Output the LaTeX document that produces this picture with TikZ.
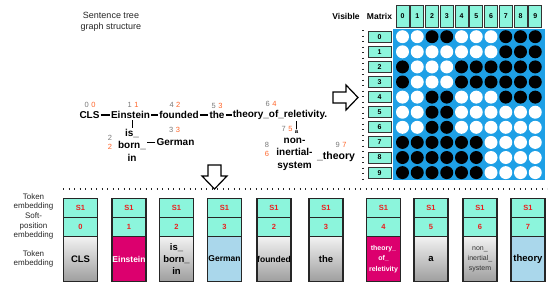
\documentclass[tikz,border=0pt]{standalone}
\usepackage{fontspec}
\setmainfont{Liberation Sans}
\usetikzlibrary{positioning}
\definecolor{mint}{RGB}{140,245,220}
\definecolor{matblue}{RGB}{30,160,230}
\definecolor{magent}{RGB}{220,0,110}
\definecolor{lblue}{RGB}{170,215,235}
\definecolor{numor}{RGB}{255,100,40}
\definecolor{numgr}{RGB}{120,120,120}
\definecolor{sred}{RGB}{235,30,30}
\newcommand{\idxpair}[2]{{\color{numgr}#1}\hspace{2.5pt}{\color{numor}#2}}
\newcommand{\tkbig}{\bfseries\fontsize{9.5}{12}\selectfont}
\newcommand{\tkmid}{\bfseries\fontsize{8.5}{12}\selectfont}
\newcommand{\tksmall}{\bfseries\fontsize{7}{10.5}\selectfont}
\newcommand{\tkthin}{\color{black!80}\fontsize{7}{10}\selectfont}

\begin{document}
\begin{tikzpicture}[x=1pt,y=-1pt,
  word/.style={font=\bfseries\fontsize{10}{12.5}\selectfont,inner sep=1pt,align=center},
  idx/.style={font=\fontsize{7.5}{9}\selectfont,inner sep=0pt,align=center},
  link/.style={line width=1.5pt},
  vlink/.style={line width=0.8pt},
  hdr/.style={draw=black!80,fill=mint,line width=0.9pt,minimum width=13pt,minimum height=22pt,inner sep=0pt,font=\bfseries\fontsize{7}{8}\selectfont},
  rowlab/.style={hdr,minimum width=23pt,minimum height=11pt},
  matdot/.style={circle,inner sep=0pt,minimum size=13pt},
  vis0/.style={fill=white},
  vis1/.style={fill=black},
  slot/.style={draw=black!85,line width=1.2pt,outer sep=0pt,minimum width=34pt,inner sep=0pt,align=center},
  segbox/.style={slot,fill=mint,minimum height=19pt,text=sred,font=\bfseries\fontsize{7.5}{8}\selectfont},
  tokgray/.style={top color=black!5,bottom color=black!38},
  tokpink/.style={fill=magent,text=white},
  tokblue/.style={fill=lblue},
  sidelab/.style={font=\fontsize{8}{9.7}\selectfont,align=center,text=black!85},
  sepline/.style={line width=1.3pt,dash pattern=on 1.3pt off 4.2pt,black!85},
  hollow/.style={draw,line width=1.2pt,fill=white,line join=miter}
]
\useasboundingbox (0,0) rectangle (550,287);

% sentence tree
\node[sidelab,font=\fontsize{9}{11}\selectfont] (title) at (111,22) {Sentence tree\\graph structure};
\node[word] (cls) at (89.5,115) {CLS};
\node[word] (ein) at (130.5,115) {Einstein};
\node[word] (fou) at (179,115) {founded};
\node[word] (the) at (217,115) {the};
\node[word] (tor) at (280,115) {theory\_of\_reletivity.};
\node[word] (isborn) at (132,145) {is\_\\born\_\\in};
\node[word] (ger) at (175.5,142.5) {German};
\node[word,font=\bfseries\fontsize{6}{7}\selectfont,inner sep=0.5pt] (a) at (296.5,131.5) {a};
\node[word] (nonsys) at (294.5,154) {non-\\inertial-\\system};
\node[word,font=\bfseries\fontsize{10.5}{12.5}\selectfont] (tth) at (336,157) {\_theory};
\draw[link] (cls) -- (ein);
\draw[link] (ein) -- (fou);
\draw[link] (fou) -- (the);
\draw[link] (the) -- (tor);
\draw[vlink] (isborn) -- (isborn |- ein.south);
\draw[link] (ger) -- (ger -| isborn.east);
\draw[vlink] (a) -- (a |- tor.south);

% positions
\node[idx] (n0) at (90,105) {\idxpair{0}{0}};
\node[idx] (n1) at (133,105) {\idxpair{1}{1}};
\node[idx] (n2) at (175,105) {\idxpair{4}{2}};
\node[idx] (n3) at (217,106) {\idxpair{5}{3}};
\node[idx] (n4) at (271,104) {\idxpair{6}{4}};
\node[idx] (n5) at (174.5,130) {\idxpair{3}{3}};
\node[idx] (n6) at (110,142.5) {{\color{numgr}2}\\{\color{numor}2}};
\node[idx] (n7) at (287,129) {\idxpair{7}{5}};
\node[idx] (n8) at (267,149.5) {{\color{numgr}8}\\{\color{numor}6}};
\node[idx] (n9) at (341,145) {\idxpair{9}{7}};

% arrows
\draw[hollow] (333,92) -- (346,92) -- (346,85) -- (358,97.5) -- (346,110) -- (346,103) -- (333,103) -- cycle;
\draw[hollow] (208,165) -- (208,176) -- (202,176) -- (214.5,189) -- (227,176) -- (221,176) -- (221,165) -- cycle;

% visible matrix
\node[font=\bfseries\fontsize{8.5}{10}\selectfont,inner sep=0pt] (vlab) at (346,16) {Visible};
\node[font=\bfseries\fontsize{8.5}{10}\selectfont,inner sep=0pt] (mlab) at (379.5,16) {Matrix};
\node[fill=matblue,minimum width=152pt,minimum height=151pt,inner sep=0pt,anchor=north west] (vm) at (393,29) {};
\foreach \c in {0,...,9}
  \node[hdr] (hc\c) at ({402.5+14.75*\c},16) {\c};
\foreach \r in {0,...,9}
  \node[rowlab] (rl\r) at (379.5,{36.7+15.1*\r}) {\r};
\foreach \row [count=\r from 0] in {
  {0,0,1,1,0,0,0,1,1,1},
  {0,0,0,0,0,0,0,1,1,1},
  {1,0,0,0,1,1,1,1,1,1},
  {1,0,0,0,1,1,1,1,1,1},
  {0,0,1,1,0,0,0,1,1,1},
  {0,0,1,1,0,0,0,0,0,0},
  {0,0,1,1,0,0,0,0,0,0},
  {1,1,1,1,1,1,0,0,0,0},
  {1,1,1,1,1,1,0,0,0,0},
  {1,1,1,1,1,1,0,0,0,0}}
  \foreach \v [count=\c from 0] in \row
    \node[matdot,vis\v] (m\r-\c) at ({402.5+14.75*\c},{36.7+15.1*\r}) {};

% separators
\draw[sepline] (363,30) -- (363,181);
\draw[sepline] (63,189) -- (547,189);

% embedding layers
\node[sidelab] (lab1) at (33.5,202) {Token\\embedding};
\node[sidelab] (lab2) at (33.5,226) {Soft-\\position\\embedding};
\node[sidelab] (lab3) at (33.5,259) {Token\\embedding};
\foreach \x/\n/\txt/\sty/\ft [count=\i from 0] in {
  80.5/0/CLS/tokgray/\tkbig,
  129/1/Einstein/tokpink/\tkmid,
  176.5/2/{is\_\\born\_\\in}/tokgray/\tkbig,
  224.5/3/German/tokblue/\tkmid,
  274/2/founded/tokgray/\tkmid,
  326/3/the/tokgray/\tkbig,
  383.5/4/{theory\_\\of\_\\reletivity}/tokpink/\tksmall,
  431/5/a/tokgray/\tkbig,
  480/6/{non\_\\inertial\_\\system}/tokgray/\tkthin,
  528/7/theory/tokblue/\tkbig}
{
  \node[segbox,anchor=north] (s\i) at (\x,198.5) {S1};
  \node[segbox,below=0pt of s\i] (p\i) {\n};
  \node[slot,\sty,below=0pt of p\i,minimum height=45pt,font=\ft] (t\i) {\txt};
}
\end{tikzpicture}
\end{document}
